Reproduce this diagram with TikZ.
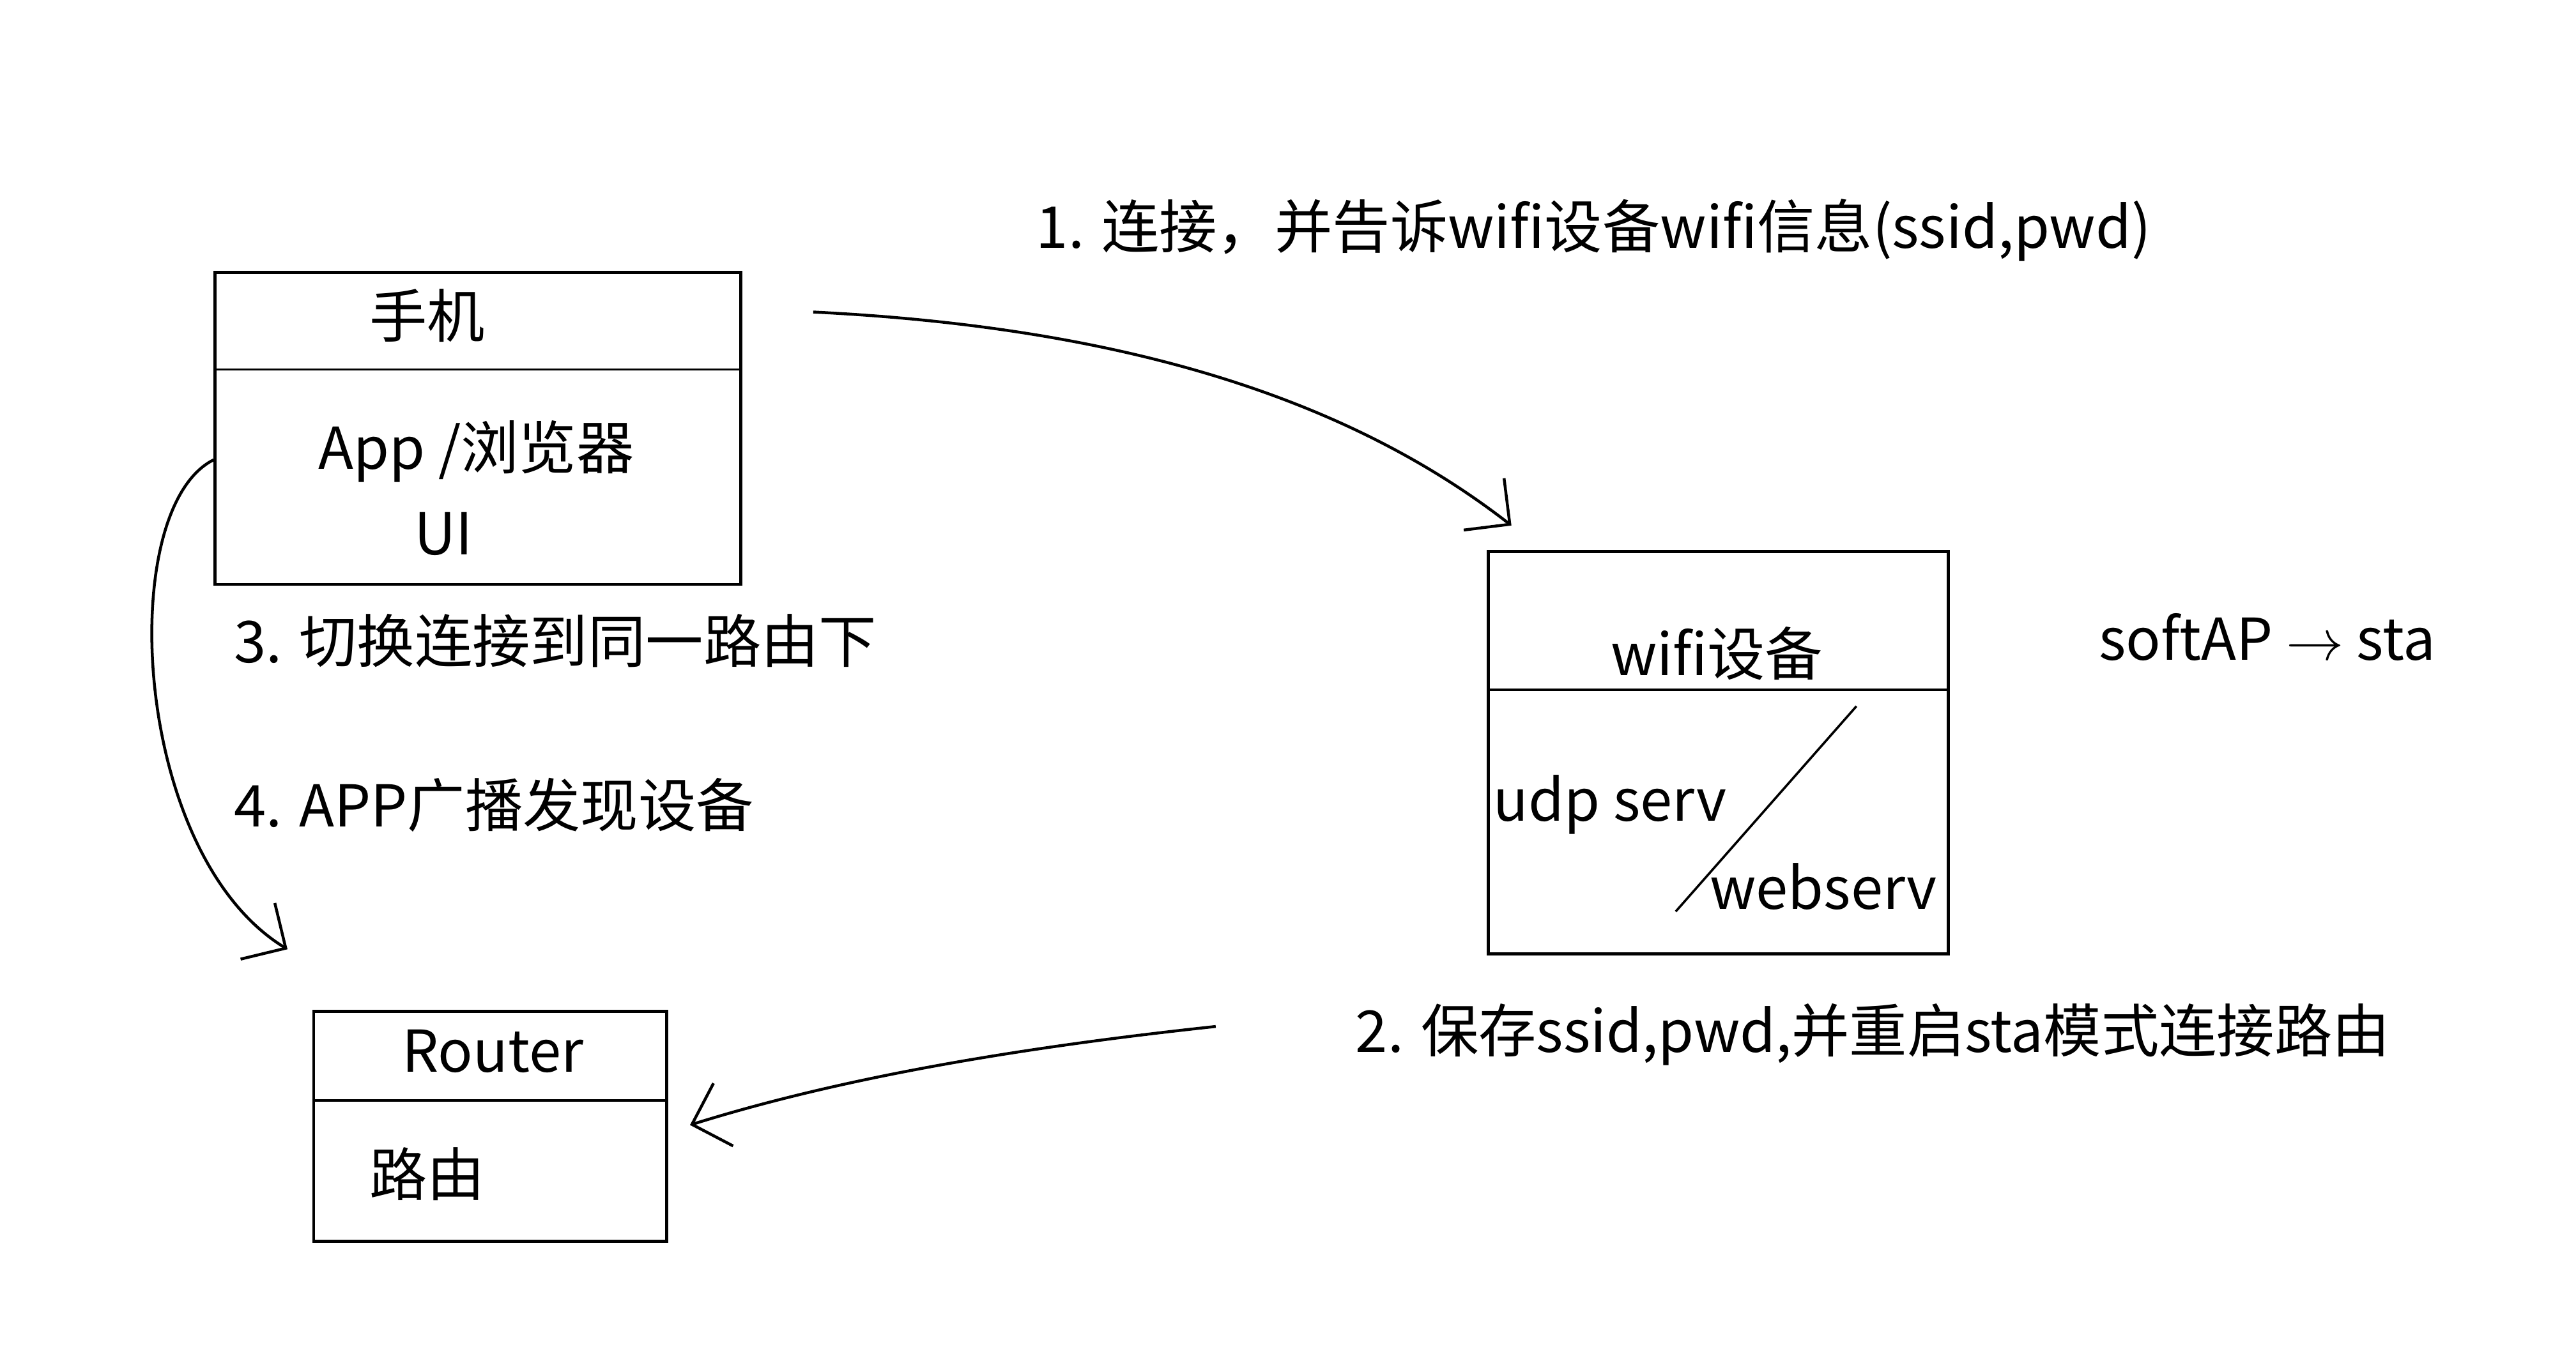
\documentclass[tikz,border=0pt]{standalone}
\usepackage{fontspec}
\setmainfont{Noto Sans CJK SC}
\usetikzlibrary{arrows.meta}
\tikzset{
  box/.style={draw, line width=0.5pt, inner sep=0pt, anchor=north west},
  lbl/.style={font=\fontsize{10}{12}\selectfont},
  link/.style={-{Straight Barb[length=2mm]}, line width=0.5pt}
}
\begin{document}
\begin{tikzpicture}[x=0.1mm,y=-0.1mm]
\useasboundingbox (0,0) rectangle (1568,834);
% phone
\node [box, minimum width=32mm, minimum height=19mm] (phone) at (130,165) {};
\draw (130,225) -- (450,225);
\node [lbl] (phonet) at (260,192) {手机};
\node [lbl] (app) at (290,275) {App /浏览器};
\node [lbl] (ui) at (270,325) {UI};
% wifi device
\node [box, minimum width=28mm, minimum height=24.5mm] (dev) at (905,335) {};
\draw (905,420) -- (1185,420);
\node [lbl] (devt) at (1045,398) {wifi设备};
\node [lbl] (udp) at (980,490) {udp serv};
\node [lbl] (web) at (1110,540) {webserv};
\draw (1130,430) -- (1020,555);
\node [lbl] (mode) at (1380,388) {softAP $\rightarrow$ sta};
% router
\node [box, minimum width=21.5mm, minimum height=14mm] (router) at (190,615) {};
\draw (190,670) -- (405,670);
\node [lbl] (routert) at (300,640) {Router};
\node [lbl] (routerl) at (260,715) {路由};
% steps
\coordinate (s1) at (495,190);
\coordinate (e1) at (920,320);
\draw [link] (s1) .. controls (700,200) and (830,250) .. (e1);
\node [lbl] (t1) at (970,140) {1. 连接，并告诉wifi设备wifi信息(ssid,pwd)};
\coordinate (s2) at (740,625);
\coordinate (e2) at (420,685);
\draw [link] (s2) .. controls (600,640) and (500,660) .. (e2);
\node [lbl] (t2) at (1140,630) {2. 保存ssid,pwd,并重启sta模式连接路由};
\coordinate (s3) at (130,280);
\coordinate (e3) at (175,578);
\draw [link] (s3) .. controls (70,310) and (80,520) .. (e3);
\node [lbl, anchor=west] (t3) at (130,390) {3. 切换连接到同一路由下};
\node [lbl, anchor=west] (t4) at (130,490) {4. APP广播发现设备};
\end{tikzpicture}
\end{document}
